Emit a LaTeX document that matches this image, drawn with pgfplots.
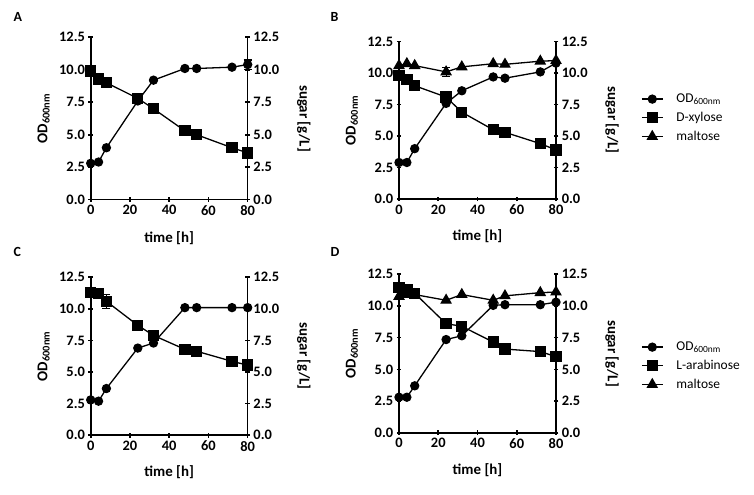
\documentclass[border=0pt]{standalone}
\usepackage{fontspec}
\setmainfont{Carlito}
\usepackage{pgfplots}
\pgfplotsset{compat=1.18}
\newcommand\ticfont{\bfseries\fontsize{14.5}{15}\selectfont}
\newcommand\labfont{\bfseries\fontsize{15}{16}\selectfont}
\newcommand\legfont{\fontsize{13.5}{14}\selectfont}
\newcommand\letfont{\bfseries\fontsize{14}{14}\selectfont}
\pgfplotsset{
  panel/.style={scale only axis, width=157bp, xmin=0, xmax=80, ymin=0, ymax=12.5,
    enlargelimits=false, clip=false,
    xtick={0,20,40,60,80}, ytick={0,2.5,5,7.5,10,12.5},
    tick align=outside, major tick length=4.5bp,
    tick style={line width=1.6bp, black},
    ticklabel style={font=\ticfont},
    /pgf/number format/assume math mode=true,
    yticklabel style={/pgf/number format/.cd, fixed, fixed zerofill, precision=1}},
  leftax/.style={panel, axis x line=bottom, axis y line=left,
    axis line style={-, line width=1.6bp, black},
    x axis line style={-}, y axis line style={-},
    xlabel={time [h]}, ylabel={OD\textsubscript{600nm}},
    every axis x label/.style={at={(axis description cs:0.5,-0.234)}, anchor=center, font=\labfont},
    every axis y label/.style={at={(axis description cs:-0.30,0.5)}, rotate=90, anchor=center, font=\labfont},
    legend cell align=left,
    legend image code/.code={\draw[mark repeat=2,mark phase=2,##1] plot coordinates {(0bp,0bp)(10.5bp,0bp)(21bp,0bp)};},
    legend style={draw=none, fill=none, font=\legfont, inner sep=0pt, row sep=8bp,
      nodes={inner sep=0pt, anchor=west},
      /tikz/every odd column/.append style={column sep=13bp}}},
  rightax/.style={panel, axis x line=none, axis y line=right,
    axis line style={-, line width=1.6bp, black},
    x axis line style={-}, y axis line style={-},
    ylabel={sugar [g/L]},
    every axis y label/.style={at={(axis description cs:1.357,0.5)}, rotate=-90, anchor=center, font=\labfont}},
  od/.style={black, line width=1.3bp, mark=*, mark size=4bp, mark options={solid, fill=black}},
  sq/.style={black, line width=1.3bp, mark=square*, mark size=5bp, mark options={solid, fill=black}},
  tr/.style={black, line width=1.3bp, mark=triangle*, mark size=5.5bp, mark options={solid, fill=black}},
  eb/.style={forget plot, only marks, mark=none, error bars/.cd, y dir=both, y explicit,
    error bar style={black, line width=1.2bp},
    error mark options={rotate=90, mark size=4bp, black, line width=1.2bp}}
}
\begin{document}
\begin{tikzpicture}
\path[use as bounding box] (0,0) rectangle (754bp,495bp);
% panel letters
\node[anchor=west, font=\letfont] at (10bp,478bp) {A};
\node[anchor=west, font=\letfont] at (327bp,478bp) {B};
\node[anchor=west, font=\letfont] at (10bp,243bp) {C};
\node[anchor=west, font=\letfont] at (327bp,243bp) {D};

% ---------- Panel A ----------
\begin{axis}[leftax, height=162.4bp, at={(90.7bp,295.3bp)}, anchor=south west]
\addplot[od] coordinates {(0,2.8)(4,2.9)(8,4.0)(24,7.6)(32,9.2)(48,10.1)(54,10.1)(72,10.2)(80,10.4)};
\addplot[sq] coordinates {(0,9.9)(4,9.3)(8,9.0)(24,7.8)(32,7.0)(48,5.3)(54,5.0)(72,4.0)(80,3.6)};
\addplot[eb] coordinates {(80,10.4) +- (0,0.35)};
\end{axis}
\begin{axis}[rightax, height=162.4bp, at={(90.7bp,295.3bp)}, anchor=south west]
\end{axis}

% ---------- Panel B ----------
\begin{axis}[leftax, height=157.3bp, at={(399bp,296bp)}, anchor=south west,
  legend style={at={(1.541,0.515)}, anchor=west}]
\addplot[od] coordinates {(0,2.9)(4,2.9)(8,4.0)(24,7.6)(32,8.6)(48,9.7)(54,9.6)(72,10.1)(80,10.8)};
\addlegendentry{OD\textsubscript{600nm}}
\addplot[sq] coordinates {(0,9.8)(4,9.5)(8,9.0)(24,8.1)(32,6.9)(48,5.5)(54,5.3)(72,4.4)(80,3.9)};
\addlegendentry{D-xylose}
\addplot[tr] coordinates {(0,10.6)(4,10.75)(8,10.6)(24,10.1)(32,10.5)(48,10.75)(54,10.7)(72,10.95)(80,11.0)};
\addlegendentry{maltose}
\addplot[eb] coordinates {(24,8.1) +- (0,0.3) (72,4.4) +- (0,0.4) (80,3.9) +- (0,0.4) (24,10.1) +- (0,0.35)};
\end{axis}
\begin{axis}[rightax, height=157.3bp, at={(399bp,296bp)}, anchor=south west]
\end{axis}

% ---------- Panel C ----------
\begin{axis}[leftax, height=158bp, at={(90.7bp,59.7bp)}, anchor=south west]
\addplot[od] coordinates {(0,2.8)(4,2.7)(8,3.7)(24,6.9)(32,7.3)(48,10.1)(54,10.1)(72,10.1)(80,10.1)};
\addplot[sq] coordinates {(0,11.3)(4,11.2)(8,10.6)(24,8.7)(32,7.9)(48,6.8)(54,6.65)(72,5.85)(80,5.55)};
\addplot[eb] coordinates {(8,10.6) +- (0,0.55)};
\end{axis}
\begin{axis}[rightax, height=158bp, at={(90.7bp,59.7bp)}, anchor=south west]
\end{axis}

% ---------- Panel D ----------
\begin{axis}[leftax, height=158.4bp, at={(399bp,62.3bp)}, anchor=south west,
  legend style={at={(1.541,0.421)}, anchor=west}]
\addplot[od] coordinates {(0,2.8)(4,2.8)(8,3.7)(24,7.35)(32,7.65)(48,10.05)(54,10.1)(72,10.1)(80,10.3)};
\addlegendentry{OD\textsubscript{600nm}}
\addplot[sq] coordinates {(0,11.45)(4,11.3)(8,11.0)(24,8.6)(32,8.4)(48,7.15)(54,6.6)(72,6.4)(80,6.0)};
\addlegendentry{L-arabinose}
\addplot[tr] coordinates {(0,10.75)(4,10.9)(8,10.9)(24,10.45)(32,10.9)(48,10.45)(54,10.8)(72,11.05)(80,11.1)};
\addlegendentry{maltose}
\end{axis}
\begin{axis}[rightax, height=158.4bp, at={(399bp,62.3bp)}, anchor=south west]
\end{axis}
\end{tikzpicture}
\end{document}
